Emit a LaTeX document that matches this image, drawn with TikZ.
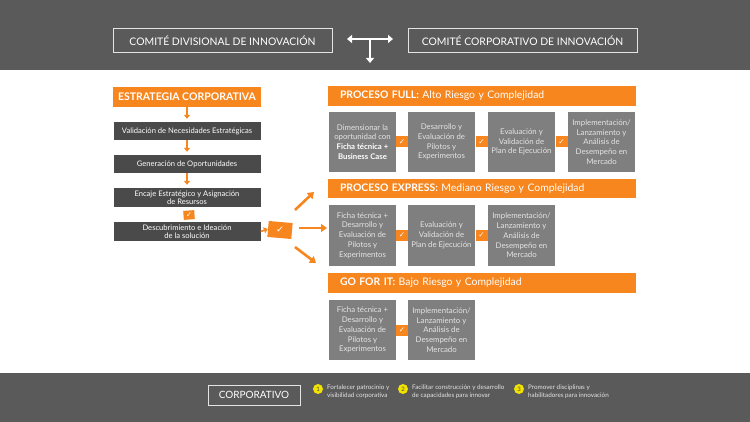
\documentclass[tikz,border=0pt]{standalone}
\usepackage{fontspec}
\setmainfont{Lato}
\newfontfamily\dejavu{DejaVu Sans}
\usetikzlibrary{arrows.meta,calc}
\definecolor{barc}{HTML}{5A5A5A}
\definecolor{org}{HTML}{F7861E}
\definecolor{dk}{HTML}{4A4A4A}
\definecolor{gr}{HTML}{7F7F7F}
\definecolor{yel}{HTML}{F2E200}
\definecolor{lt}{HTML}{E4E4E4}
\begin{document}
\begin{tikzpicture}[x=1pt,y=-1pt,
  topbox/.style={draw=lt, line width=1pt, text=white, minimum height=24, inner sep=0,
     font=\fontsize{10.4}{12}\selectfont},
  obox/.style={fill=org, text=white, minimum width=148, minimum height=20, inner sep=0,
     font=\bfseries\fontsize{10.5}{12}\selectfont},
  lbox/.style={fill=dk, text=white, minimum width=147, minimum height=18, inner sep=0,
     align=center, font=\fontsize{7.6}{8.4}\selectfont},
  titlebar/.style={fill=org, text=white, text width=284, inner xsep=12, inner ysep=0,
     minimum height=20, align=left, font=\fontsize{10.4}{12}\selectfont},
  pbox/.style={fill=gr, text=lt, minimum width=67, minimum height=60, inner sep=0,
     align=center, font=\fontsize{7.8}{9.8}\selectfont},
  chk/.style={fill=org, text=white, minimum width=12, minimum height=11, inner sep=0,
     font=\dejavu\bfseries\fontsize{7.5}{7.5}\selectfont},
  oarr/.style={draw=org, line width=1.6pt, -{Triangle[length=4pt,width=6pt]}},
  farr/.style={draw=org, line width=2.6pt, -{Triangle[length=6pt,width=8pt]}},
  warr/.style={draw=white, line width=2pt},
  num/.style={circle, fill=yel, minimum size=10, inner sep=0, text=dk,
     font=\fontsize{6}{6}\selectfont},
  note/.style={anchor=west, text=lt, align=left, inner sep=0,
     font=\fontsize{6.3}{8.2}\selectfont}
]
\useasboundingbox (0,0) rectangle (750,422);
\fill[barc] (0,0) rectangle (750,70);
\fill[barc] (0,373) rectangle (750,422);

% top
\node[topbox, minimum width=219] (cdi) at (222.5,41) {COMITÉ DIVISIONAL DE INNOVACIÓN};
\node[topbox, minimum width=229] (cci) at (522.5,41) {COMITÉ CORPORATIVO DE INNOVACIÓN};
\coordinate (tl) at (347,39);
\coordinate (tr) at (393,39);
\coordinate (tm) at (370,39);
\coordinate (tb) at (370,63);
\draw[warr, {Triangle[length=5pt,width=8pt]}-{Triangle[length=5pt,width=8pt]}] (tl) -- (tr);
\draw[warr, -{Triangle[length=5pt,width=8pt]}] (tm) -- (tb);

% left column
\node[obox] (est) at (187,97) {ESTRATEGIA CORPORATIVA};
\node[lbox] (val) at (187,131) {Validación de Necesidades Estratégicas};
\node[lbox] (gen) at (187,164) {Generación de Oportunidades};
\node[lbox, minimum height=19] (enc) at (187,197.5) {Encaje Estratégico y Asignación\\de Resursos};
\node[lbox, minimum height=19] (des) at (187,231.5) {Descubrimiento e Ideación\\de la solución};
\draw[oarr] (est.south) -- ([yshift=3pt]val.north);
\draw[oarr] (val.south) -- ([yshift=3pt]gen.north);
\draw[oarr] (gen.south) -- ([yshift=3pt]enc.north);
\node[chk, minimum width=11, minimum height=9, rotate=4] (c0) at (189,215) {✓};

% center check and fan arrows
\node[chk, minimum width=24, minimum height=16, rotate=-5, font=\dejavu\bfseries\fontsize{9.5}{9.5}\selectfont] (big) at (280,230) {✓};
\draw[oarr] (des.east) -- (big.west);
\coordinate (a1s) at (295,210);
\coordinate (a1e) at (314,192);
\coordinate (a2s) at (299,228);
\coordinate (a2e) at (327,228);
\coordinate (a3s) at (295,247);
\coordinate (a3e) at (316,263);
\draw[farr] (a1s) -- (a1e);
\draw[farr] (a2s) -- (a2e);
\draw[farr] (a3s) -- (a3e);

% Proceso full
\node[titlebar] (full) at (482,96) {\textbf{PROCESO FULL:} Alto Riesgo y Complejidad};
\node[pbox] (f1) at (362.5,142) {Dimensionar la\\oportunidad con\\\textcolor{white}{\bfseries Ficha técnica +}\\\textcolor{white}{\bfseries Business Case}};
\node[pbox] (f2) at (441.5,142) {Desarrollo y\\Evaluación de\\Pilotos y\\Experimentos};
\node[pbox] (f3) at (521.5,142) {Evaluación y\\Validación de\\Plan de Ejecución};
\node[pbox] (f4) at (601.5,142) {Implementación/\\Lanzamiento y\\Análisis de\\Desempeño en\\Mercado};
\node[chk] (fc1) at ($(f1.east)!0.5!(f2.west)$) {✓};
\node[chk] (fc2) at ($(f2.east)!0.5!(f3.west)$) {✓};
\node[chk] (fc3) at ($(f3.east)!0.5!(f4.west)$) {✓};

% Proceso express
\node[titlebar, minimum height=19] (exp) at (482,189) {\textbf{PROCESO EXPRESS:} Mediano Riesgo y Complejidad};
\node[pbox, minimum height=61] (e1) at (362.5,235.5) {Ficha técnica +\\Desarrollo y\\Evaluación de\\Pilotos y\\Experimentos};
\node[pbox, minimum height=61] (e2) at (441.5,235.5) {Evaluación y\\Validación de\\Plan de Ejecución};
\node[pbox, minimum height=61] (e3) at (521.5,235.5) {Implementación/\\Lanzamiento y\\Análisis de\\Desempeño en\\Mercado};
\node[chk] (ec1) at ($(e1.east)!0.5!(e2.west)$) {✓};
\node[chk] (ec2) at ($(e2.east)!0.5!(e3.west)$) {✓};

% Go for it
\node[titlebar] (go) at (482,283) {\textbf{GO FOR IT:} Bajo Riesgo y Complejidad};
\node[pbox] (g1) at (362.5,330) {Ficha técnica +\\Desarrollo y\\Evaluación de\\Pilotos y\\Experimentos};
\node[pbox] (g2) at (441.5,330) {Implementación/\\Lanzamiento y\\Análisis de\\Desempeño en\\Mercado};
\node[chk] (gc1) at ($(g1.east)!0.5!(g2.west)$) {✓};

% bottom
\node[topbox, minimum width=92, minimum height=20, font=\fontsize{10}{11}\selectfont] (corp) at (254,395) {CORPORATIVO};
\node[num] (n1) at (318,389) {1};
\node[note] (t1) at (327,392) {Fortalecer patrocinio y\\visibilidad corporativa};
\node[num] (n2) at (403,389) {2};
\node[note] (t2) at (412,392) {Facilitar construcción y desarrollo\\de capacidades para innovar};
\node[num] (n3) at (519,389) {3};
\node[note] (t3) at (528,392) {Promover disciplinas y\\habilitadores para innovación};
\end{tikzpicture}
\end{document}
